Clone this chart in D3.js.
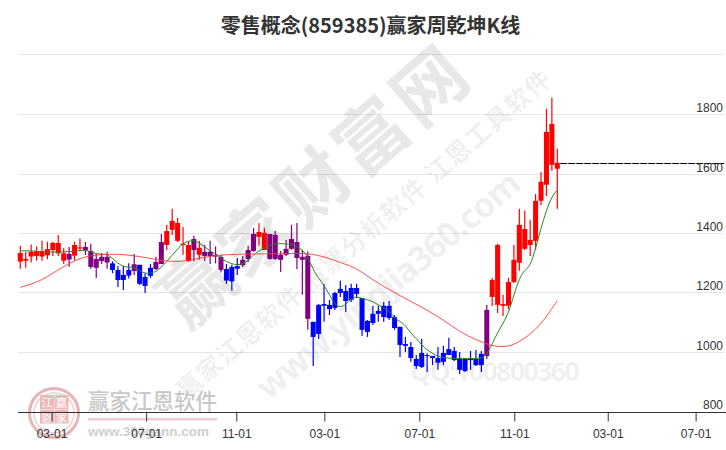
<!DOCTYPE html>
<html><head><meta charset="utf-8">
<script src="https://cdn.jsdelivr.net/npm/d3@7/dist/d3.min.js"></script>
<style>html,body{margin:0;padding:0;background:#fff}svg{display:block}</style>
</head><body><svg id="c" width="726" height="450"></svg>
<script>
const chartTitle="零售概念(859385)赢家周乾坤K线";
const kindList=("rrrrrrrrrprrpppppbbbbpbbbpprrrrrprppppbbbppprrpppppppp"+"bbbbbbbbbbbbbbbbbbbbbbbbbbbbbbbb"+"p"+"rrrrrrrrrrrrr").split("");
const openV=[1307,1310,1324,1326,1324,1328,1346,1335,1310,1333,1327,1351,1356,1343,1316,1323,1323,1301,1279,1262,1279,1298,1296,1255,1286,1306,1373,1363,1414,1377,1363,1309,1383,1330,1340,1340,1330,1323,1282,1289,1292,1313,1346,1400,1390,1346,1400,1397,1330,1350,1383,1373,1323,1326,
1104,1161,1164,1161,1201,1215,1208,1218,1218,1184,1107,1131,1141,1158,1158,1120,1087,1029,1019,979,999,992,989,982,999,1012,1006,979,979,982,979,996,1144,
1188,1161,1158,1158,1238,1303,1350,1363,1377,1512,1566,1633,1620];
const closeV=[1336,1316,1340,1342,1342,1349,1370,1370,1335,1314,1363,1355,1345,1289,1286,1309,1304,1279,1245,1245,1260,1275,1232,1225,1259,1282,1299,1410,1444,1437,1367,1363,1346,1353,1326,1326,1324,1279,1243,1240,1283,1295,1316,1343,1407,1404,1316,1316,1313,1330,1350,1319,1313,1114,
1053,1063,1158,1147,1151,1201,1174,1178,1198,1077,1070,1100,1131,1120,1117,1083,1026,1023,982,955,952,989,982,966,969,992,975,942,938,975,958,958,989,
1245,1363,1164,1238,1313,1431,1417,1380,1512,1576,1744,1771,1640];
const highV=[1360,1341,1365,1358,1377,1374,1374,1397,1352,1356,1374,1385,1373,1367,1333,1335,1340,1308,1292,1292,1301,1333,1296,1268,1299,1323,1400,1431,1485,1454,1424,1377,1394,1377,1363,1377,1358,1330,1299,1296,1319,1326,1360,1421,1437,1421,1400,1410,1343,1380,1431,1437,1346,1341,
1104,1164,1232,1178,1205,1242,1228,1232,1232,1184,1110,1158,1158,1171,1174,1127,1087,1053,1036,992,1046,998,989,1019,1023,1050,1019,1002,982,1006,1009,1006,1161,
1252,1367,1195,1252,1363,1485,1478,1448,1535,1609,1822,1859,1687];
const lowV=[1283,1286,1304,1310,1310,1315,1326,1326,1299,1290,1310,1341,1329,1283,1252,1299,1283,1268,1221,1211,1250,1262,1228,1201,1252,1279,1299,1346,1397,1373,1330,1306,1308,1313,1309,1299,1301,1270,1232,1209,1262,1289,1306,1340,1360,1346,1313,1313,1272,1326,1346,1282,1195,1077,
955,1046,1104,1127,1144,1188,1137,1171,1184,1056,1053,1093,1104,1104,1110,1077,985,1002,969,945,948,935,958,942,958,992,972,928,935,942,955,935,979,
1157,1134,1124,1147,1235,1276,1346,1326,1346,1498,1528,1613,1485];
const greenV=[1343,1344,1343,1342,1340,1339,1339,1340,1340,1340,1342,1345,1346,1340,1333,1332,1332,1318,1301,1290,1288,1288,1276,1267,1267,1273,1288,1307,1329,1349,1369,1375,1380,1369,1358,1341,1335,1318,1307,1299,1296,1298,1310,1330,1344,1352,1363,1367,1368,1367,1364,1358,1346,1324,1279,1251,1228,1195,1161,1153,1161,1183,1189,1183,1178,1172,1161,1150,1142,1116,1105,1093,1065,1048,1026,1009,998,987,984,981,981,980,980,980,981,981,992,1030,1068,1099,1133,1195,1251,1279,1290,1352,1419,1481,1526,1549];
const redIdx=[0,2,4,6,8,10,12,14,16,18,20,22,24,26,28,30,34,37,41,45,49,53,56,59,62,65,68,71,72,75,78,81,84,86,87,89,91,93,95,97,99];
const redV=[1220,1231,1245,1268,1290,1310,1324,1329,1332,1332,1329,1324,1318,1310,1308,1307,1322,1330,1332,1333,1334,1335,1324,1304,1285,1245,1212,1183,1172,1144,1110,1071,1043,1030,1023,1019,1026,1049,1077,1121,1175];
const yTicks=[800,1000,1200,1400,1600,1800];
const gridVals=[1000,1200,1400,1600,1800,2005];
const xTickPos=[5.76,23.2,39.82,56.05,73.56,91.07,108.3,124.5];
const xTickLabels=["03-01","07-01","11-01","03-01","07-01","11-01","03-01","07-01"];

const svg=d3.select("#c");
const x=d3.scaleLinear().domain([0,99]).range([20.3,557.3]);
const y=d3.scaleLinear().domain([800,2000]).range([412,56]);
const sans="'Liberation Sans',Arial,sans-serif", cjk="'Noto Sans CJK SC',sans-serif", noto="'Noto Sans',sans-serif";

// grid
svg.append("g").selectAll("line").data(gridVals).join("line")
 .attr("x1",18).attr("x2",724).attr("y1",d=>Math.round(y(d))-.5).attr("y2",d=>Math.round(y(d))-.5)
 .attr("stroke","#e6e6e6").attr("stroke-width",1);

// watermarks
function wm(t,px,py,rot,size,weight,op,family,ls,len){
 const s=svg.append("text").attr("transform",`translate(${px},${py}) rotate(${rot})`).attr("text-anchor","middle")
  .attr("font-family",family||cjk).attr("font-size",size).attr("font-weight",weight).attr("fill","#000").attr("fill-opacity",op)
  .attr("letter-spacing",ls||0).text(t);
 if(len) s.attr("textLength",len).attr("lengthAdjust","spacing");
}
wm("赢家财富网",332,205,-41,72,700,.09,cjk,5);
wm("赢家江恩软件 股票分析软件 江恩工具软件",370,241,-41,25,700,.07,cjk,1.3);
wm("www.yingjia360.com",396,294,-40,34,700,.08,noto,0,332);
wm("QQ:100800360",495,381,0,27,700,.065,noto,0,170);

// logo
const logo=svg.append("g");
logo.append("circle").attr("cx",54).attr("cy",413).attr("r",24.5).attr("fill","none").attr("stroke","#e8b4b4").attr("stroke-width",3);
logo.append("circle").attr("cx",54).attr("cy",413).attr("r",20).attr("fill","none").attr("stroke","#f0d0d0").attr("stroke-width",1.5);
[["江",47,407],["赢",61.5,407],["恩",47,421.5],["家",61.5,421.5]].forEach(d=>{
 logo.append("rect").attr("x",d[1]-7).attr("y",d[2]-12).attr("width",14).attr("height",14).attr("fill","#ecb8b8");
 logo.append("text").attr("x",d[1]).attr("y",d[2]).attr("text-anchor","middle").attr("font-family",cjk).attr("font-size",11.5).attr("fill","#fff").text(d[0]);
});
logo.append("text").attr("x",88).attr("y",409).attr("font-family",cjk).attr("font-weight",500).attr("font-size",21.5).attr("fill","#c8c8c8").text("赢家江恩软件");
logo.append("rect").attr("x",88).attr("y",418).attr("width",129).attr("height",2.5).attr("fill","#e8d0d0");
logo.append("text").attr("x",88).attr("y",436).attr("font-family",sans).attr("font-weight",700).attr("font-size",13.5).attr("fill","#cfcfcf").text("www.360gann.com");

// candles
const col={r:"#ff0000",b:"#0000ff",p:"#800080"};
const idx=d3.range(openV.length);
const bw=(x(1)-x(0))-0.4;
const c=svg.append("g").selectAll("g").data(idx).join("g");
c.append("line").attr("x1",i=>x(i)).attr("x2",i=>x(i)).attr("y1",i=>y(highV[i])).attr("y2",i=>y(lowV[i])).attr("stroke",i=>col[kindList[i]]).attr("stroke-width",1.2);
c.append("rect").attr("x",i=>x(i)-bw/2).attr("width",bw)
 .attr("y",i=>y(Math.max(openV[i],closeV[i]))).attr("height",i=>Math.max(1,Math.abs(y(openV[i])-y(closeV[i])))).attr("fill",i=>col[kindList[i]]);

// MA lines
const lg=d3.line().x((d,i)=>x(i)).y(d=>y(d)).curve(d3.curveBasis);
svg.append("path").attr("d",lg(greenV)).attr("fill","none").attr("stroke","#228b22").attr("stroke-width",1);
svg.append("path").attr("d",d3.line().x(d=>x(d[0])).y(d=>y(d[1])).curve(d3.curveBasis)(redIdx.map((k,i)=>[k,redV[i]]))).attr("fill","none").attr("stroke","#ff3a3a").attr("stroke-width",.9);

// last value line
const ly=Math.round(y(closeV[99]))+.5;
svg.append("line").attr("x1",x(99)+3).attr("x2",724).attr("y1",ly).attr("y2",ly).attr("stroke","#000").attr("stroke-dasharray","7,1").attr("stroke-width",1);

// x axis
const xa=svg.append("g").attr("transform","translate(0,412.5)").call(d3.axisBottom(x).tickValues(xTickPos).tickFormat((d,i)=>xTickLabels[i]).tickSize(9).tickSizeOuter(0));
xa.select(".domain").attr("d","M18,0H726").attr("stroke","#333");
xa.selectAll(".tick line").attr("stroke","#333");
xa.selectAll(".tick text").attr("font-family",sans).attr("font-size",12).attr("fill","#333").attr("y",17);

// y labels
svg.append("g").selectAll("text").data(yTicks).join("text").attr("x",723).attr("y",d=>y(d)-3).attr("text-anchor","end")
 .attr("font-family",sans).attr("font-size",12).attr("fill","#333").text(d=>d);

svg.append("text").attr("x",370.5).attr("y",33).attr("text-anchor","middle").attr("font-family",cjk).attr("font-weight",700).attr("font-size",20).attr("fill","#333").text(chartTitle);
</script></body></html>
